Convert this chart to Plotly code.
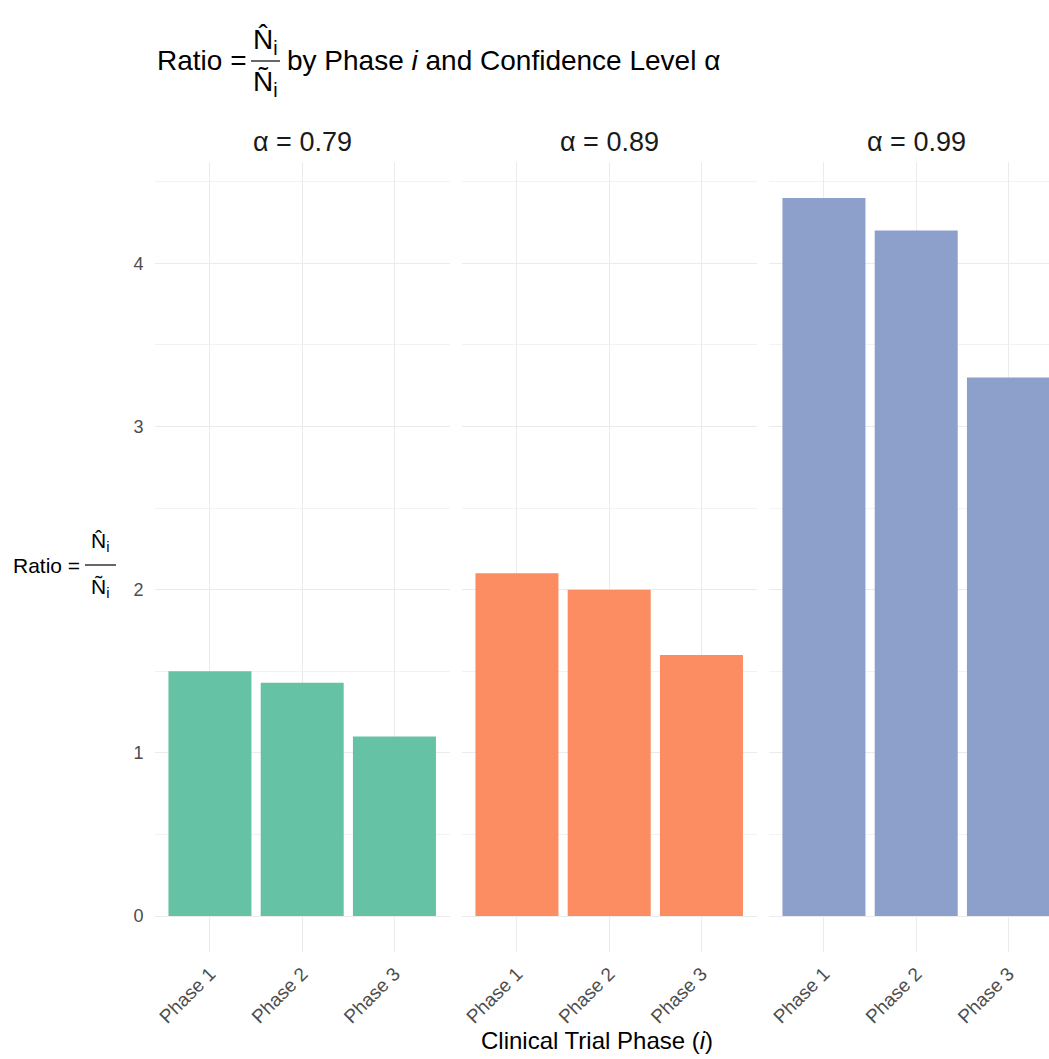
import plotly.graph_objects as go

# ---- data -------------------------------------------------------------
phases = ["Phase 1", "Phase 2", "Phase 3"]
alpha_levels = ["0.79", "0.89", "0.99"]
ratio_alpha_079 = [1.5, 1.43, 1.1]
ratio_alpha_089 = [2.1, 2.0, 1.6]
ratio_alpha_099 = [4.4, 4.2, 3.3]
y_tick_values = [0, 1, 2, 3, 4]
y_tick_labels = ["0", "1", "2", "3", "4"]

series = [ratio_alpha_079, ratio_alpha_089, ratio_alpha_099]
palette = ["#66C2A5", "#FC8D62", "#8DA0CB"]  # ColorBrewer Set2

# ---- layout geometry (pixels on a 1049 x 1059 canvas) ------------------
W, H = 1049, 1059
FONT = "Liberation Sans, Arial, sans-serif"


def fx(p):
    return p / W


def fy(p):
    return 1 - p / H


step = 92.25                      # pixels per category
panel_left = [154.6, 461.6, 768.6]
panel_right = [449.8, 756.8, 1049.0]
y_dom = [fy(952), fy(162)]

fig = go.Figure()

for k in range(3):
    ax = "" if k == 0 else str(k + 1)
    fig.add_trace(go.Bar(
        x=phases, y=series[k],
        marker=dict(color=palette[k], line=dict(width=0)),
        width=0.9,
        xaxis="x" + ax, yaxis="y" + ax,
        showlegend=False,
        hovertemplate="%{x}: %{y}<extra></extra>",
    ))

    x_end = -0.6 + (panel_right[k] - panel_left[k]) / step
    fig.update_layout(**{
        "xaxis" + ax: dict(
            domain=[fx(panel_left[k]), fx(panel_right[k])],
            anchor="y" + ax,
            type="category",
            range=[-0.6, x_end],
            showgrid=True, gridcolor="#EBEBEB", gridwidth=1,
            zeroline=False, showline=False, ticks="",
            tickangle=-45,
            tickfont=dict(family=FONT, size=19, color="#4D4D4D"),
            ticklabelstandoff=6,
        ),
        "yaxis" + ax: dict(
            domain=y_dom,
            anchor="x" + ax,
            range=[-0.22, 4.62],
            tickmode="array",
            tickvals=y_tick_values,
            ticktext=y_tick_labels,
            showticklabels=(k == 0),
            showgrid=True, gridcolor="#EBEBEB", gridwidth=1,
            minor=dict(dtick=0.5, showgrid=True, gridcolor="#F2F2F2", gridwidth=1),
            zeroline=False, showline=False, ticks="",
            tickfont=dict(family=FONT, size=18, color="#4D4D4D"),
            ticklabelstandoff=10,
        ),
    })

annotations = []
shapes = []


def text(x, y, s, size, color="#000000", xanchor="center"):
    annotations.append(dict(
        x=fx(x), y=fy(y), xref="paper", yref="paper",
        text=s, showarrow=False, xanchor=xanchor, yanchor="middle",
        font=dict(family=FONT, size=size, color=color),
    ))


def frac_bar(x0, x1, y):
    shapes.append(dict(
        type="line", xref="paper", yref="paper",
        x0=fx(x0), x1=fx(x1), y0=fy(y), y1=fy(y),
        line=dict(color="#000000", width=1.2),
    ))


# plot title: Ratio = N̂i / Ñi by Phase i and Confidence Level α
text(155, 61, "Ratio =", 28, xanchor="left")
text(265, 41, "N\u0302<sub>i</sub>", 28)
frac_bar(251, 280, 61)
text(265, 84, "Ñ<sub>i</sub>", 28)
text(285, 61, "by Phase <i>i</i> and Confidence Level α", 28, xanchor="left")

# facet strip labels
for k in range(3):
    cx = panel_left[k] + 0.6 * step + step
    text(cx, 142, "α = " + alpha_levels[k], 27, color="#1A1A1A")

# y-axis title as a stacked fraction
text(11, 565, "Ratio =", 21, xanchor="left")
text(100, 542, "N\u0302<sub>i</sub>", 21)
frac_bar(85, 116, 565)
text(100, 588, "Ñ<sub>i</sub>", 21)

# x-axis title
text(597, 1040, "Clinical Trial Phase (<i>i</i>)", 24)

fig.update_layout(
    width=W, height=H,
    margin=dict(l=0, r=0, t=0, b=0),
    paper_bgcolor="#FFFFFF", plot_bgcolor="#FFFFFF",
    bargap=0.1,
    annotations=annotations,
    shapes=shapes,
    font=dict(family=FONT),
)

fig.write_html("out.html")
